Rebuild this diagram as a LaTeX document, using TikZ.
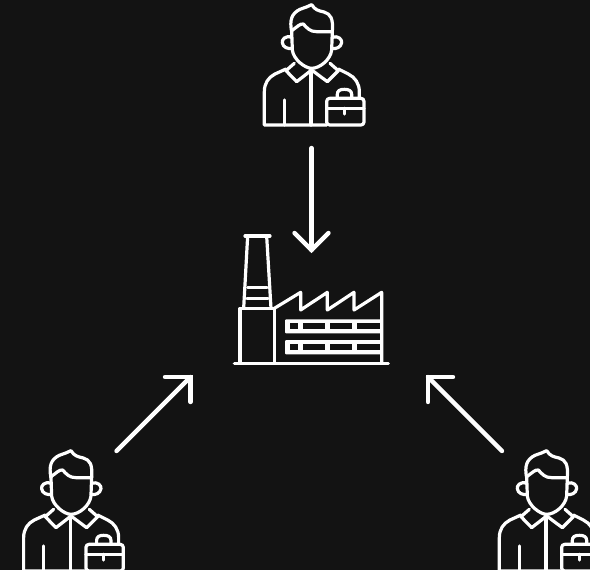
\documentclass[tikz,border=0pt]{standalone}
\usetikzlibrary{calc}
\definecolor{bgdark}{HTML}{131313}
\tikzset{
  icon/.style={draw=white,line width=3.2pt,line cap=round,line join=round},
  flow/.style={draw=white,line width=4.4pt,line cap=round,line join=miter},
  zoomunits/.style={x=0.33333pt,y=-0.33333pt},
  pics/person/.style={code={
    \begin{scope}[zoomunits,icon]
      % hair
      \draw (125,95) .. controls (118,60) and (125,40) .. (150,28)
        .. controls (165,22) and (175,20) .. (185,14)
        .. controls (195,30) and (205,32) .. (222,36)
        .. controls (242,42) and (250,55) .. (247,95);
      % fringe
      \draw (125,92) .. controls (140,82) and (150,70) .. (160,72)
        .. controls (172,85) and (180,95) .. (200,95) -- (247,95);
      % face
      \draw (125,92) -- (127,150) .. controls (130,178) and (165,205) .. (185,205)
        .. controls (210,205) and (242,178) .. (245,150) -- (247,92);
      % ears
      \draw (125,112) .. controls (105,105) and (95,120) .. (97,128)
        .. controls (98,142) and (115,148) .. (127,145);
      \draw (247,112) .. controls (265,105) and (277,120) .. (275,128)
        .. controls (273,142) and (258,148) .. (246,145);
      % collar
      \draw (133,190) -- (108,212) -- (140,245) -- (185,210) -- (232,245) -- (265,212) -- (240,190);
      % body
      \draw (108,207) -- (75,222) .. controls (55,232) and (43,250) .. (43,275)
        -- (43,375) -- (230,375);
      \draw (265,207) -- (295,222) .. controls (315,232) and (328,250) .. (328,275) -- (328,293);
      \draw (183,210) -- (183,375);
      \draw (103,300) -- (103,375);
      % briefcase
      \draw[rounded corners=3pt] (230,295) rectangle (342,375);
      \draw (230,325) -- (342,325);
      \draw (283,325) -- (283,342);
      \draw (262,295) -- (262,283) .. controls (262,272) and (270,268) .. (283,268)
        .. controls (296,268) and (305,272) .. (305,283) -- (305,295);
    \end{scope}
  }},
  pics/factory/.style={code={
    \begin{scope}[zoomunits,icon]
      \draw (28,415) -- (490,415);
      \draw (60,33) -- (135,33);
      \draw (68,33) -- (56,250);
      \draw (125,33) -- (138,250);
      \draw (68,188) -- (126,188);
      \draw (66,220) -- (129,220);
      \draw (45,415) -- (45,250) -- (148,250) -- (148,415);
      \draw (148,250) -- (227,202) -- (227,255) -- (307,202) -- (307,255)
        -- (387,202) -- (387,255) -- (470,202) -- (470,415);
      \foreach \ya/\yb/\yc/\yd in {283/325/295/313,345/388/357/375}{
        \fill[white,rounded corners=1pt] (180,\ya) rectangle (470,\yb);
        \foreach \xa/\xb in {195/220,235/300,315/382,397/464}
          \fill[bgdark] (\xa,\yc) rectangle (\xb,\yd);
      }
    \end{scope}
  }}
}
\begin{document}
\begin{tikzpicture}[x=1pt,y=-1pt]
  \useasboundingbox (0,0) rectangle (590,570);
  \clip (0,0) rectangle (590,570);
  \fill[bgdark] (0,0) rectangle (590,570);
  \pic at (250,0) {person};
  \pic at (9.3,446) {person};
  \pic at (485,446) {person};
  \pic at (225,225) {factory};
  % connectors
  \coordinate (topfrom) at (311.5,148);
  \coordinate (toptip) at (311.5,250);
  \coordinate (topa) at (294.5,233);
  \coordinate (topb) at (328.5,233);
  \coordinate (leftfrom) at (116.5,451);
  \coordinate (lefttip) at (190.5,377);
  \coordinate (lefta) at (165,377);
  \coordinate (leftb) at (190.5,402);
  \coordinate (rightfrom) at (502,451);
  \coordinate (righttip) at (428,377);
  \coordinate (righta) at (453,377);
  \coordinate (rightb) at (428,402);
  \draw[flow] (topfrom) -- (toptip);
  \draw[flow] (topa) -- (toptip) -- (topb);
  \draw[flow] (leftfrom) -- (lefttip);
  \draw[flow] (lefta) -- (lefttip) -- (leftb);
  \draw[flow] (rightfrom) -- (righttip);
  \draw[flow] (righta) -- (righttip) -- (rightb);
\end{tikzpicture}
\end{document}
